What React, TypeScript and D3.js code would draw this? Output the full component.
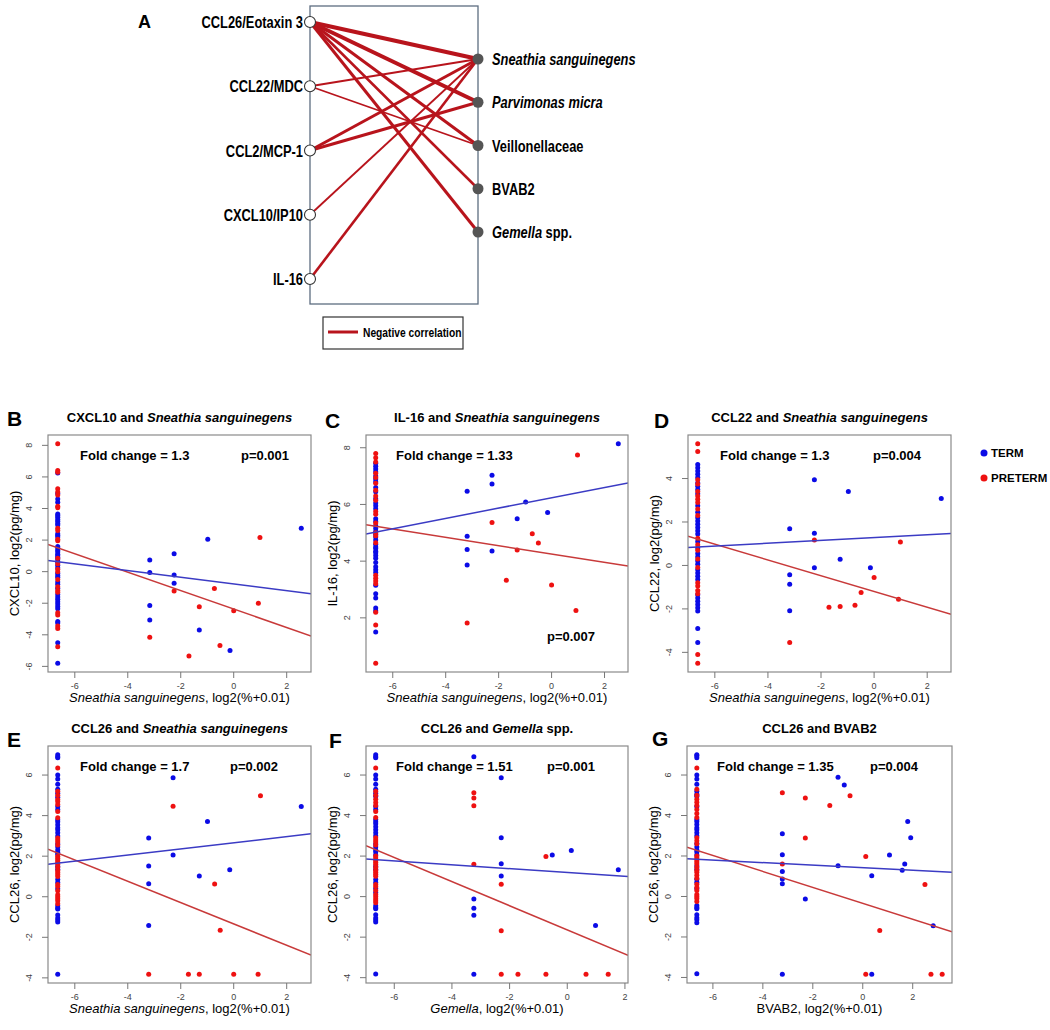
import React from "react";
import * as d3 from "d3";

const FONT = "'Liberation Sans', Arial, Helvetica, sans-serif";
const TERM_COLOR = "#0b0be6";
const PRETERM_COLOR = "#ee1111";
const TERM_LINE = "#3b3bc4";
const PRETERM_LINE = "#c83a3a";
const EDGE_COLOR = "#b8141c";

// ---------------- Panel A data ----------------
const cytokines = ["CCL26/Eotaxin 3", "CCL22/MDC", "CCL2/MCP-1", "CXCL10/IP10", "IL-16"];
const taxa = ["Sneathia sanguinegens", "Parvimonas micra", "Veillonellaceae", "BVAB2", "Gemella spp."];
const taxaItalic = ["Sneathia sanguinegens", "Parvimonas micra", "", "", "Gemella"];
const taxaPlain = ["", "", "Veillonellaceae", "BVAB2", " spp."];
const edgeSource = [0, 0, 0, 0, 0, 1, 1, 2, 2, 3, 4];
const edgeTarget = [0, 1, 2, 3, 4, 0, 2, 0, 1, 0, 0];
const edgeWeight = [4, 4, 3, 2.5, 3, 2, 1.8, 3, 3, 1.8, 2.6];

// ---------------- Scatter data ----------------
const ZERO = -6.644; // log2(0 + 0.01)

// B: CXCL10 vs Sneathia
const bTermCol = [6.25, 4.95, 4.6, 4.4, 3.65, 3.55, 3.45, 3.3, 3.2, 3.05, 2.95, 2.4, 2.3, 2.2, 1.6, 1.5, 1.35, 1.25, 1.1, 1.0, 0.9, 0.75, 0.6, 0.4, 0.25, -0.1, -0.25, -0.35, -0.65, -0.8, -1.05, -1.45, -1.6, -1.75, -1.9, -2.05, -2.2, -2.35, -3.15, -3.25, -4.5, -5.8];
const bPretermCol = [8.1, 6.4, 6.3, 5.25, 5.05, 4.85, 4.15, 4.05, 2.75, 2.6, 2.05, 1.95, 0.85, 0.5, 0.15, 0.0, -0.5, -0.95, -1.2, -1.3, -2.6, -2.75, -3.45, -3.6, -4.75];
const bTermPts: [number, number][] = [[-3.17, 0.74], [-3.17, -0.06], [-3.17, -2.15], [-3.17, -3.07], [-2.25, 1.14], [-2.25, -0.21], [-2.25, -0.74], [-1.3, -3.7], [-0.98, 2.05], [-0.14, -4.99], [2.55, 2.75]];
const bPretermPts: [number, number][] = [[-3.17, -4.16], [-2.25, -1.23], [-1.69, -5.35], [-1.3, -2.22], [-0.73, -1.06], [-0.52, -4.67], [0.0, -2.47], [0.93, -2.0], [0.99, 2.16]];
const bFitTerm = [-0.78, -0.211];
const bFitPreterm = [-2.37, -0.584];

// C: IL-16 vs Sneathia
const cTermCol = [7.45, 7.35, 7.25, 7.15, 7.0, 6.9, 6.8, 6.6, 6.45, 6.2, 6.05, 5.95, 5.85, 5.5, 5.4, 5.25, 5.15, 5.05, 4.95, 4.85, 4.75, 4.6, 4.5, 4.45, 4.35, 4.3, 4.2, 4.1, 3.95, 3.8, 3.7, 3.6, 3.15, 2.85, 2.7, 2.35, 2.25, 1.5];
const cPretermCol = [7.8, 7.65, 7.5, 7.1, 6.95, 6.75, 6.5, 6.3, 6.15, 5.75, 5.65, 5.35, 5.0, 4.9, 4.65, 3.5, 3.4, 3.3, 3.2, 2.2, 1.75, 0.4];
const cTermPts: [number, number][] = [[-3.19, 6.47], [-3.19, 4.88], [-3.19, 4.41], [-3.19, 3.86], [-2.25, 7.03], [-2.25, 6.72], [-2.25, 4.36], [-1.3, 5.5], [-0.98, 6.09], [-0.15, 5.72], [2.52, 8.14]];
const cPretermPts: [number, number][] = [[-3.19, 1.82], [-2.25, 5.36], [-1.71, 3.33], [-1.3, 4.39], [-0.73, 4.97], [-0.5, 4.64], [0.0, 3.16], [0.92, 2.26], [0.98, 7.74]];
const cFitTerm = [6.236, 0.182];
const cFitPreterm = [4.25, -0.147];

// D: CCL22 vs Sneathia
const dTermCol = [4.65, 4.5, 4.35, 4.2, 4.05, 3.8, 3.65, 3.5, 3.3, 2.75, 2.45, 2.2, 2.05, 1.9, 1.75, 1.6, 1.45, 1.1, 0.8, 0.55, 0.4, 0.2, 0.05, -0.2, -0.35, -0.5, -0.65, -1.35, -1.5, -1.65, -1.8, -1.95, -2.1, -2.9, -3.55];
const dPretermCol = [5.6, 5.25, 3.95, 3.75, 3.4, 3.2, 3.05, 2.9, 2.6, 2.3, 1.25, 0.95, 0.7, 0.3, -0.1, -0.8, -0.95, -1.15, -1.3, -4.1, -4.5];
const dTermPts: [number, number][] = [[-3.18, 1.69], [-3.18, -0.43], [-3.18, -0.86], [-3.18, -2.09], [-2.25, 3.95], [-2.25, 1.48], [-2.25, -0.11], [-1.28, 0.29], [-0.97, 3.4], [-0.14, -0.11], [2.53, 3.08]];
const dPretermPts: [number, number][] = [[-3.18, -3.55], [-2.25, 1.17], [-1.7, -1.92], [-1.28, -1.89], [-0.72, -1.83], [-0.49, -1.25], [0.0, -0.55], [0.92, -1.55], [0.99, 1.08]];
const dFitTerm = [1.28, 0.064];
const dFitPreterm = [-1.2, -0.363];

// E: CCL26 vs Sneathia
const eTermCol = [7.0, 6.9, 6.85, 6.0, 5.8, 5.55, 5.3, 5.1, 4.9, 4.45, 4.3, 3.8, 3.7, 3.55, 3.4, 3.3, 3.15, 3.0, 2.6, 2.45, 2.3, 2.2, 2.1, 1.5, 1.35, 0.85, 0.7, 0.4, -0.45, -0.55, -0.6, -0.9, -1.05, -1.15, -1.25, -3.82];
const ePretermCol = [6.35, 5.2, 5.0, 4.8, 4.7, 4.55, 4.2, 3.9, 2.9, 2.8, 2.7, 2.55, 2.0, 1.9, 1.8, 1.7, 1.6, 1.45, 1.3, 1.2, 1.1, 1.0, 0.6, 0.5, 0.3, 0.1, 0.0, -0.1, -0.2, -0.35];
const eTermPts: [number, number][] = [[-3.21, 2.9], [-3.21, 1.52], [-3.21, 0.64], [-3.21, -1.42], [-2.29, 5.87], [-2.29, 2.06], [-1.3, 1.02], [-0.99, 3.71], [-0.15, 1.33], [2.55, 4.45]];
const ePretermPts: [number, number][] = [[-3.21, -3.82], [-2.29, 4.46], [-1.71, -3.82], [-1.3, -3.82], [-0.72, 0.63], [-0.51, -1.65], [0.0, -3.82], [0.92, -3.82], [1.01, 4.98]];
const eFitTerm = [2.66, 0.151];
const eFitPreterm = [-1.34, -0.525];

// F: CCL26 vs Gemella
const fTermCol = [7.0, 6.9, 6.85, 6.0, 5.8, 5.55, 5.3, 5.1, 4.95, 4.45, 4.3, 3.8, 3.7, 3.6, 3.45, 3.3, 3.15, 3.0, 2.6, 2.45, 2.3, 2.2, 2.05, 1.5, 1.35, 0.85, 0.7, 0.4, 0.2, -0.45, -0.55, -0.6, -0.9, -1.05, -1.15, -1.25, -3.82];
const fPretermCol = [6.35, 5.2, 5.0, 4.8, 4.65, 4.5, 4.2, 3.9, 2.9, 2.8, 2.7, 2.55, 2.0, 1.9, 1.8, 1.7, 1.6, 1.45, 1.3, 1.2, 1.1, 1.0, 0.6, 0.5, 0.3, 0.1, 0.0, -0.1, -0.2, -0.3];
const fTermPts: [number, number][] = [[-3.24, 6.9], [-3.24, -0.12], [-3.24, -0.58], [-3.24, -0.92], [-3.24, -3.83], [-2.29, 5.87], [-2.29, 2.9], [-2.29, 1.62], [-2.29, 1.02], [-0.52, 2.06], [0.14, 2.28], [0.98, -1.42], [1.77, 1.32]];
const fPretermPts: [number, number][] = [[-3.24, 5.12], [-3.24, 4.87], [-3.24, 4.49], [-3.24, 1.6], [-2.29, 0.61], [-2.29, -1.68], [-2.29, -3.83], [-1.71, -3.83], [-0.74, 1.98], [-0.74, -3.83], [0.65, -3.83], [1.42, -3.83]];
const fFitTerm = [1.19, -0.096];
const fFitPreterm = [-1.64, -0.595];

// G: CCL26 vs BVAB2
const gTermCol = [7.0, 6.95, 6.85, 6.0, 5.8, 5.55, 5.2, 5.05, 4.95, 4.45, 3.8, 3.7, 3.55, 3.4, 3.3, 3.15, 3.0, 2.6, 2.45, 2.3, 2.2, 2.05, 1.5, 1.35, 0.85, 0.7, 0.4, -0.45, -0.55, -0.6, -0.9, -1.05, -1.15, -1.3, -3.82];
const gPretermCol = [6.35, 5.3, 5.0, 4.8, 4.65, 4.5, 4.3, 4.1, 3.9, 2.9, 2.75, 2.6, 2.0, 1.9, 1.8, 1.7, 1.6, 1.45, 1.3, 1.2, 1.05, 0.9, 0.6, 0.45, 0.3, 0.1, 0.0, -0.1, -0.25];
const gTermPts: [number, number][] = [[-3.22, 3.1], [-3.22, 2.06], [-3.22, 1.24], [-3.22, 0.86], [-3.22, 0.63], [-3.22, -3.84], [-2.3, -0.13], [-0.99, 5.89], [-0.99, 1.52], [-0.74, 5.51], [0.36, 1.02], [0.36, -3.84], [1.07, 2.05], [1.58, 1.3], [1.68, 1.6], [1.8, 3.71], [1.92, 2.9], [2.82, -1.44]];
const gPretermPts: [number, number][] = [[-3.22, 5.12], [-3.22, 1.6], [-2.3, 4.87], [-2.3, 2.89], [-1.32, 4.49], [-0.51, 4.97], [0.12, 1.98], [0.12, -3.84], [0.68, -1.68], [2.49, 0.59], [2.73, -3.84], [3.18, -3.84]];
const gFitTerm = [1.42, -0.063];
const gFitPreterm = [-0.34, -0.394];

const xTicks = [-6, -4, -2, 0, 2];
const yTicksB = [-6, -4, -2, 0, 2, 4, 6, 8];
const yTicksC = [2, 4, 6, 8];
const yTicksD = [-4, -2, 0, 2, 4];
const yTicksCCL26 = [-4, -2, 0, 2, 4, 6];

// ---------------- helpers ----------------
function colPts(vals: number[]): [number, number][] {
  return vals.map((v) => [ZERO, v] as [number, number]);
}
function rRange(vals: number[]): [number, number] {
  const [lo, hi] = d3.extent(vals) as [number, number];
  const pad = (hi - lo) * 0.04;
  return [lo - pad, hi + pad];
}

type Box = { x: number; y: number; w: number; h: number };

type PanelProps = {
  id: string;
  box: Box;
  letter: string;
  letterPos: [number, number];
  title: React.ReactNode;
  xLabel: React.ReactNode;
  yLabel: string;
  yTicks: number[];
  termCol: number[];
  pretermCol: number[];
  termPts: [number, number][];
  pretermPts: [number, number][];
  fitTerm: number[];
  fitPreterm: number[];
  fold: string;
  pText: string;
  pPos: [number, number];
  foldX: number;
};

function ScatterPanel(p: PanelProps) {
  const term = [...colPts(p.termCol), ...p.termPts];
  const preterm = [...colPts(p.pretermCol), ...p.pretermPts];
  const all = [...term, ...preterm];
  const xDom = rRange(all.map((d) => d[0]));
  const yDom = rRange(all.map((d) => d[1]));
  const { x: bx, y: by, w, h } = p.box;
  const xs = d3.scaleLinear().domain(xDom).range([bx, bx + w]);
  const ys = d3.scaleLinear().domain(yDom).range([by + h, by]);
  const fitLine = (f: number[]) =>
    d3.line<number>()
      .x((v) => xs(v))
      .y((v) => ys(f[0] + f[1] * v))(xDom) || "";
  const clipId = `clip-${p.id}`;
  const cx = bx + w / 2;
  return (
    <g>
      <defs>
        <clipPath id={clipId}>
          <rect x={bx} y={by} width={w} height={h} />
        </clipPath>
      </defs>
      <text x={p.letterPos[0]} y={p.letterPos[1]} fontSize={21} fontWeight="bold" fontFamily={FONT}>
        {p.letter}
      </text>
      <text x={cx} y={by - 13} fontSize={13} fontWeight="bold" textAnchor="middle" fontFamily={FONT}>
        {p.title}
      </text>
      {/* points */}
      <g clipPath={`url(#${clipId})`}>
        {term.map((d, i) => (
          <circle key={`t${i}`} cx={xs(d[0])} cy={ys(d[1])} r={2.5} fill={TERM_COLOR} />
        ))}
        {preterm.map((d, i) => (
          <circle key={`p${i}`} cx={xs(d[0])} cy={ys(d[1])} r={2.5} fill={PRETERM_COLOR} />
        ))}
        <path d={fitLine(p.fitPreterm)} stroke={PRETERM_LINE} strokeWidth={1.5} fill="none" />
        <path d={fitLine(p.fitTerm)} stroke={TERM_LINE} strokeWidth={1.5} fill="none" />
      </g>
      <rect x={bx} y={by} width={w} height={h} fill="none" stroke="#8a8a8a" strokeWidth={1.2} />
      {/* x axis */}
      {xTicks.map((t) => (
        <g key={`xt${t}`}>
          <line x1={xs(t)} x2={xs(t)} y1={by + h} y2={by + h + 6} stroke="#777" strokeWidth={1} />
          <text x={xs(t)} y={by + h + 17} fontSize={9} fill="#444" textAnchor="middle" fontFamily={FONT}>
            {t}
          </text>
        </g>
      ))}
      {/* y axis */}
      {p.yTicks.map((t) => (
        <g key={`yt${t}`}>
          <line x1={bx - 6} x2={bx} y1={ys(t)} y2={ys(t)} stroke="#777" strokeWidth={1} />
          <text
            transform={`translate(${bx - 16},${ys(t)}) rotate(-90)`}
            fontSize={9}
            fill="#444"
            textAnchor="middle"
            fontFamily={FONT}
          >
            {t}
          </text>
        </g>
      ))}
      <text x={cx} y={by + h + 30} fontSize={13} textAnchor="middle" fontFamily={FONT}>
        {p.xLabel}
      </text>
      <text
        transform={`translate(${bx - 29},${by + h / 2}) rotate(-90)`}
        fontSize={13}
        textAnchor="middle"
        fontFamily={FONT}
      >
        {p.yLabel}
      </text>
      <text x={p.foldX} y={by + 25} fontSize={13} fontWeight="bold" fontFamily={FONT}>
        {p.fold}
      </text>
      <text x={p.pPos[0]} y={p.pPos[1]} fontSize={13} fontWeight="bold" fontFamily={FONT}>
        {p.pText}
      </text>
    </g>
  );
}

function NetworkPanel() {
  const left = 310;
  const right = 478;
  const yLeft = d3.scalePoint<number>().domain(d3.range(cytokines.length)).range([22, 279]);
  const yRight = d3.scalePoint<number>().domain(d3.range(taxa.length)).range([59, 232]);
  const wScale = d3.scaleLinear().domain([0, 4]).range([0, 4]);
  const sx = 0.78;
  return (
    <g fontFamily={FONT}>
      <text x={138} y={28} fontSize={18} fontWeight="bold">A</text>
      <rect x={left} y={6} width={right - left} height={298} fill="none" stroke="#5d6d80" strokeWidth={1.3} />
      {edgeSource.map((s, i) => (
        <line
          key={`e${i}`}
          x1={left}
          y1={yLeft(s)}
          x2={right}
          y2={yRight(edgeTarget[i])}
          stroke={EDGE_COLOR}
          strokeWidth={wScale(edgeWeight[i])}
        />
      ))}
      {cytokines.map((c, i) => (
        <g key={c}>
          <circle cx={left} cy={yLeft(i)} r={5.5} fill="#fff" stroke="#333" strokeWidth={1.1} />
          <text
            transform={`translate(${left - 7},${(yLeft(i) as number) + 6}) scale(${sx},1)`}
            fontSize={16.5}
            fontWeight="bold"
            textAnchor="end"
          >
            {c}
          </text>
        </g>
      ))}
      {taxa.map((t, i) => (
        <g key={t}>
          <circle cx={right} cy={yRight(i)} r={5.5} fill="#555" />
          <text
            transform={`translate(${right + 14},${(yRight(i) as number) + 6}) scale(${sx},1)`}
            fontSize={16.5}
            fontWeight="bold"
          >
            {taxaItalic[i] && <tspan fontStyle="italic">{taxaItalic[i]}</tspan>}
            {taxaPlain[i] && <tspan>{taxaPlain[i]}</tspan>}
          </text>
        </g>
      ))}
      <rect x={323} y={317} width={140} height={32} fill="#fff" stroke="#333" strokeWidth={1.2} />
      <line x1={328} x2={358} y1={332} y2={332} stroke={EDGE_COLOR} strokeWidth={3} />
      <text transform={`translate(363,337) scale(0.82,1)`} fontSize={12.5} fontWeight="bold">
        Negative correlation
      </text>
    </g>
  );
}

const sneathiaLabel = (
  <>
    <tspan fontStyle="italic">Sneathia sanguinegens</tspan>
    <tspan>, log2(%+0.01)</tspan>
  </>
);
const titleWith = (a: string, it: string, b: string) => (
  <>
    <tspan>{a}</tspan>
    <tspan fontStyle="italic">{it}</tspan>
    {b && <tspan>{b}</tspan>}
  </>
);

export default function App() {
  const row1 = 435;
  const row2 = 746;
  const W = 263;
  const H = 237;
  return (
    <svg
      width={1050}
      height={1030}
      style={{ position: "absolute", left: 0, top: 0, background: "#fff" }}
      fontFamily={FONT}
    >
      <rect x={0} y={0} width={1050} height={1030} fill="#fff" />
      <NetworkPanel />
      <ScatterPanel
        id="B"
        box={{ x: 48, y: row1, w: W, h: H }}
        letter="B"
        letterPos={[7, 426]}
        title={titleWith("CXCL10 and ", "Sneathia sanguinegens", "")}
        xLabel={sneathiaLabel}
        yLabel="CXCL10, log2(pg/mg)"
        yTicks={yTicksB}
        termCol={bTermCol}
        pretermCol={bPretermCol}
        termPts={bTermPts}
        pretermPts={bPretermPts}
        fitTerm={bFitTerm}
        fitPreterm={bFitPreterm}
        fold="Fold change = 1.3"
        foldX={80}
        pText="p=0.001"
        pPos={[241, row1 + 25]}
      />
      <ScatterPanel
        id="C"
        box={{ x: 366, y: row1, w: W - 1, h: H }}
        letter="C"
        letterPos={[325, 428]}
        title={titleWith("IL-16 and ", "Sneathia sanguinegens", "")}
        xLabel={sneathiaLabel}
        yLabel="IL-16, log2(pg/mg)"
        yTicks={yTicksC}
        termCol={cTermCol}
        pretermCol={cPretermCol}
        termPts={cTermPts}
        pretermPts={cPretermPts}
        fitTerm={cFitTerm}
        fitPreterm={cFitPreterm}
        fold="Fold change = 1.33"
        foldX={396}
        pText="p=0.007"
        pPos={[547, 641]}
      />
      <ScatterPanel
        id="D"
        box={{ x: 688, y: row1, w: W, h: H }}
        letter="D"
        letterPos={[654, 428]}
        title={titleWith("CCL22 and ", "Sneathia sanguinegens", "")}
        xLabel={sneathiaLabel}
        yLabel="CCL22, log2(pg/mg)"
        yTicks={yTicksD}
        termCol={dTermCol}
        pretermCol={dPretermCol}
        termPts={dTermPts}
        pretermPts={dPretermPts}
        fitTerm={dFitTerm}
        fitPreterm={dFitPreterm}
        fold="Fold change = 1.3"
        foldX={720}
        pText="p=0.004"
        pPos={[873, row1 + 25]}
      />
      <ScatterPanel
        id="E"
        box={{ x: 48, y: row2, w: W, h: H }}
        letter="E"
        letterPos={[7, 747]}
        title={titleWith("CCL26 and ", "Sneathia sanguinegens", "")}
        xLabel={sneathiaLabel}
        yLabel="CCL26, log2(pg/mg)"
        yTicks={yTicksCCL26}
        termCol={eTermCol}
        pretermCol={ePretermCol}
        termPts={eTermPts}
        pretermPts={ePretermPts}
        fitTerm={eFitTerm}
        fitPreterm={eFitPreterm}
        fold="Fold change = 1.7"
        foldX={80}
        pText="p=0.002"
        pPos={[230, row2 + 25]}
      />
      <ScatterPanel
        id="F"
        box={{ x: 366, y: row2, w: W - 1, h: H }}
        letter="F"
        letterPos={[329, 748]}
        title={titleWith("CCL26 and ", "Gemella", " spp.")}
        xLabel={
          <>
            <tspan fontStyle="italic">Gemella</tspan>
            <tspan>, log2(%+0.01)</tspan>
          </>
        }
        yLabel="CCL26, log2(pg/mg)"
        yTicks={yTicksCCL26}
        termCol={fTermCol}
        pretermCol={fPretermCol}
        termPts={fTermPts}
        pretermPts={fPretermPts}
        fitTerm={fFitTerm}
        fitPreterm={fFitPreterm}
        fold="Fold change = 1.51"
        foldX={396}
        pText="p=0.001"
        pPos={[547, row2 + 25]}
      />
      <ScatterPanel
        id="G"
        box={{ x: 687, y: row2, w: W + 2, h: H }}
        letter="G"
        letterPos={[652, 746]}
        title={<tspan>CCL26 and BVAB2</tspan>}
        xLabel={<tspan>BVAB2, log2(%+0.01)</tspan>}
        yLabel="CCL26, log2(pg/mg)"
        yTicks={yTicksCCL26}
        termCol={gTermCol}
        pretermCol={gPretermCol}
        termPts={gTermPts}
        pretermPts={gPretermPts}
        fitTerm={gFitTerm}
        fitPreterm={gFitPreterm}
        fold="Fold change = 1.35"
        foldX={717}
        pText="p=0.004"
        pPos={[870, row2 + 25]}
      />
      {/* group legend */}
      <g fontFamily={FONT}>
        <circle cx={984} cy={453} r={3.5} fill={TERM_COLOR} />
        <text x={991} y={457} fontSize={11.5} fontWeight="bold">TERM</text>
        <circle cx={984} cy={478} r={3.5} fill={PRETERM_COLOR} />
        <text x={991} y={482} fontSize={11.5} fontWeight="bold">PRETERM</text>
      </g>
    </svg>
  );
}
